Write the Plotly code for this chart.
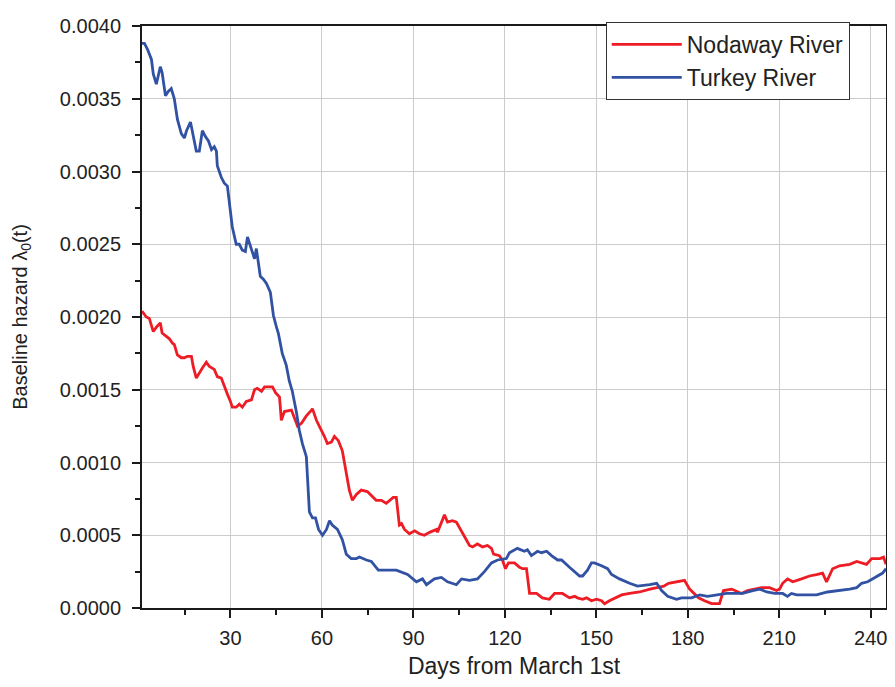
import plotly.graph_objects as go

# ---- data ----
turkey_days = [1, 1.8, 2.8, 4.1, 4.7, 5.7, 7.0, 7.6, 8.7, 9.6, 10.6, 11.6, 12.6, 13.9, 14.9,
               15.6, 16.9, 17.5, 18.8, 19.8, 20.8, 21.8, 22.8, 23.8, 24.7, 25.4, 25.7, 27.0,
               28.0, 29.0, 29.7, 30.6, 31.9, 32.9, 33.9, 34.9, 35.6, 36.9, 37.9, 38.5, 39.8,
               40.8, 41.8, 43.1, 44.1, 45.1, 45.7, 47.0, 48.3, 49.3, 50.3, 51.6, 52.6, 53.6,
               54.9, 55.9, 56.9, 57.9, 58.9, 60.2, 61.5, 62.5, 63.4, 65.1, 66.7, 68.0, 69.6,
               71.3, 72.3, 74.6, 76.2, 78.5, 84.4, 88.1, 91.0, 93.0, 94.3, 96.9, 99.2, 101.2,
               104.1, 105.8, 108.4, 111.0, 113.3, 115.6, 117.6, 120.5, 121.5, 124.1, 126.4,
               127.4, 128.7, 130.7, 132.0, 133.7, 135.3, 137.3, 138.6, 141.2, 142.9, 144.5,
               145.5, 147.1, 148.4, 149.4, 151.7, 153.7, 155.0, 157.6, 160.9, 163.5, 167.5,
               169.8, 171.4, 173.4, 176.3, 177.9, 181.2, 183.9, 186.5, 189.4, 192.7, 196.0,
               198.0, 201.3, 203.6, 205.9, 208.5, 211.1, 212.7, 214.0, 215.7, 219.0, 222.2,
               225.8, 229.8, 233.1, 235.4, 237.0, 239.0, 240.6, 242.3, 243.9, 245.0]
turkey_hazard = [0.00388, 0.00388, 0.00384, 0.00377, 0.00367, 0.00360, 0.00372, 0.00368, 0.00352,
                 0.00355, 0.00357, 0.00350, 0.00336, 0.00326, 0.00323, 0.00328, 0.00334, 0.00328,
                 0.00314, 0.00314, 0.00328, 0.00324, 0.00321, 0.00315, 0.00317, 0.00314, 0.00304,
                 0.00296, 0.00292, 0.00290, 0.00278, 0.00262, 0.00250, 0.00250, 0.00246, 0.00245,
                 0.00255, 0.00246, 0.00240, 0.00247, 0.00228, 0.00226, 0.00223, 0.00217, 0.00201,
                 0.00193, 0.00189, 0.00175, 0.00167, 0.00156, 0.00149, 0.00135, 0.00122, 0.00113,
                 0.00104, 0.00066, 0.00062, 0.00062, 0.00054, 0.00050, 0.00054, 0.00060, 0.00057,
                 0.00054, 0.00047, 0.00037, 0.00034, 0.00034, 0.00035, 0.00033, 0.00032, 0.00026,
                 0.00026, 0.00023, 0.00018, 0.00020, 0.00016, 0.00020, 0.00021, 0.00018, 0.00016,
                 0.00020, 0.00019, 0.00020, 0.00025, 0.00031, 0.00033, 0.00034, 0.00038, 0.00041,
                 0.00039, 0.00040, 0.00036, 0.00039, 0.00038, 0.00039, 0.00036, 0.00033, 0.00033,
                 0.00028, 0.00025, 0.00022, 0.00022, 0.00026, 0.00031, 0.00031, 0.00029, 0.00027,
                 0.00023, 0.00020, 0.00017, 0.00015, 0.00016, 0.00017, 0.00012, 0.00008, 0.00006,
                 0.00007, 0.00007, 0.00009, 0.00008, 0.00009, 0.00010, 0.00010, 0.00010, 0.00012,
                 0.00013, 0.00011, 0.00010, 0.00010, 0.00008, 0.00010, 0.00009, 0.00009, 0.00009,
                 0.00011, 0.00012, 0.00013, 0.00014, 0.00017, 0.00018, 0.00020, 0.00022, 0.00024,
                 0.00027]

nodaway_days = [1, 2.4, 3.4, 4.1, 4.7, 5.7, 7.0, 7.6, 9.3, 10.0, 11.0, 11.6, 12.6, 13.9, 14.9,
                15.9, 17.2, 17.8, 18.8, 19.8, 20.8, 22.1, 23.1, 24.7, 25.7, 27.0, 28.0, 29.0,
                30.0, 30.6, 31.9, 32.9, 33.9, 35.2, 36.9, 37.9, 38.8, 40.2, 41.2, 43.8, 44.8,
                46.1, 46.7, 47.7, 50.0, 51.0, 52.0, 53.3, 54.9, 56.6, 56.9, 58.2, 59.2, 60.8,
                61.8, 63.1, 64.1, 65.4, 66.7, 68.0, 69.0, 70.0, 71.3, 72.9, 74.9, 77.8, 79.5,
                81.1, 83.4, 84.4, 85.4, 86.1, 87.1, 88.7, 90.4, 92.0, 93.6, 95.3, 97.6, 97.9,
                99.2, 100.2, 101.2, 102.8, 104.1, 105.8, 106.8, 108.4, 109.4, 111.0, 112.7,
                114.3, 115.6, 116.3, 118.2, 119.2, 120.2, 121.2, 123.2, 124.8, 125.8, 127.1,
                128.1, 130.4, 132.3, 134.6, 136.3, 138.9, 141.2, 142.9, 143.8, 145.5, 146.8,
                148.4, 150.1, 151.7, 152.7, 154.3, 156.6, 158.3, 160.9, 164.2, 167.6, 169.8,
                172.1, 173.7, 176.3, 178.9, 180.6, 182.2, 183.5, 185.5, 187.8, 190.4, 191.7,
                194.4, 197.6, 199.6, 201.9, 204.2, 206.8, 209.1, 210.1, 211.1, 212.7, 214.4,
                217.3, 219.9, 222.2, 224.2, 225.5, 227.5, 229.8, 233.1, 235.4, 238.6, 240.3,
                243.0, 244.2, 245.0]
nodaway_hazard = [0.00204, 0.00200, 0.00199, 0.00194, 0.00190, 0.00193, 0.00196, 0.00189, 0.00186,
                  0.00185, 0.00182, 0.00181, 0.00174, 0.00172, 0.00172, 0.00173, 0.00173, 0.00166,
                  0.00158, 0.00162, 0.00165, 0.00169, 0.00166, 0.00164, 0.00159, 0.00158, 0.00152,
                  0.00147, 0.00142, 0.00138, 0.00138, 0.00140, 0.00138, 0.00142, 0.00143, 0.00150,
                  0.00151, 0.00149, 0.00152, 0.00152, 0.00148, 0.00145, 0.00129, 0.00135, 0.00136,
                  0.00131, 0.00125, 0.00127, 0.00132, 0.00136, 0.00137, 0.00129, 0.00125, 0.00118,
                  0.00113, 0.00114, 0.00118, 0.00115, 0.00108, 0.00091, 0.00081, 0.00074, 0.00078,
                  0.00081, 0.00080, 0.00074, 0.00074, 0.00072, 0.00076, 0.00076, 0.00057, 0.00058,
                  0.00054, 0.00051, 0.00053, 0.00051, 0.00050, 0.00052, 0.00054, 0.00052, 0.00059,
                  0.00064, 0.00059, 0.00060, 0.00059, 0.00052, 0.00049, 0.00043, 0.00042, 0.00044,
                  0.00042, 0.00043, 0.00041, 0.00037, 0.00036, 0.00033, 0.00027, 0.00031, 0.00031,
                  0.00028, 0.00027, 0.00027, 0.00010, 0.00010, 0.00007, 0.00006, 0.00010, 0.00010,
                  0.00007, 0.00008, 0.00007, 0.00006, 0.00007, 0.00005, 0.00006, 0.00005, 0.00003,
                  0.00005, 0.00007, 0.00009, 0.00010, 0.00011, 0.00013, 0.00014, 0.00015, 0.00017,
                  0.00018, 0.00019, 0.00013, 0.00010, 0.00007, 0.00005, 0.00003, 0.00003, 0.00012,
                  0.00013, 0.00010, 0.00012, 0.00013, 0.00014, 0.00014, 0.00012, 0.00013, 0.00017,
                  0.00020, 0.00018, 0.00020, 0.00022, 0.00023, 0.00024, 0.00018, 0.00027, 0.00029,
                  0.00030, 0.00032, 0.00030, 0.00034, 0.00034, 0.00035, 0.00030]

x_ticks = [30, 60, 90, 120, 150, 180, 210, 240]
x_minor = [15, 45, 75, 105, 135, 165, 195, 225]
y_ticks = [0.0, 0.0005, 0.0010, 0.0015, 0.0020, 0.0025, 0.0030, 0.0035, 0.0040]

RED = "#EE1C25"
BLUE = "#3151A3"
FONT = "Liberation Sans, Arial, sans-serif"
TXT = "#222222"

fig = go.Figure()
fig.add_trace(go.Scatter(x=nodaway_days, y=nodaway_hazard, mode="lines", name="Nodaway River",
                         line=dict(color=RED, width=2.8)))
fig.add_trace(go.Scatter(x=turkey_days, y=turkey_hazard, mode="lines", name="Turkey River",
                         line=dict(color=BLUE, width=2.8)))

axis_common = dict(
    showline=True, linecolor="#1a1a1a", linewidth=2, mirror=True,
    ticks="outside", ticklen=8, tickwidth=2, tickcolor="#1a1a1a",
    showgrid=True, gridcolor="#cccccc", gridwidth=1, zeroline=False,
    tickfont=dict(family=FONT, size=20, color=TXT),
    ticklabeloverflow="allow",
)

fig.update_xaxes(
    range=[1.0, 245.0], tickvals=x_ticks, ticktext=[str(v) for v in x_ticks],
    ticklabelstandoff=3,
    minor=dict(ticks="outside", ticklen=5, tickwidth=2, tickcolor="#1a1a1a",
               tickvals=x_minor, showgrid=False),
    title=dict(text="Days from March 1st", font=dict(family=FONT, size=23, color=TXT), standoff=10),
    **axis_common,
)
fig.update_yaxes(
    range=[0, 0.004], tickvals=y_ticks, ticktext=[f"{v:.4f}" for v in y_ticks],
    ticklabelstandoff=7,
    minor=dict(ticks="outside", ticklen=5, tickwidth=2, tickcolor="#1a1a1a",
               dtick=0.00025, tick0=0, showgrid=False),
    title=dict(text="Baseline hazard λ<sub>0</sub>(t)", font=dict(family=FONT, size=20, color=TXT),
               standoff=27),
    **axis_common,
)

fig.update_layout(
    width=887, height=679,
    margin=dict(l=134, r=7, t=8, b=79),
    paper_bgcolor="white", plot_bgcolor="white",
    font=dict(family=FONT, color=TXT),
    legend=dict(x=0.6233, y=1.007, xanchor="left", yanchor="top",
                bgcolor="white", bordercolor="#333333", borderwidth=1,
                font=dict(family=FONT, size=23, color=TXT),
                itemwidth=70, tracegroupgap=2),
    showlegend=True,
)

fig.write_html("out.html")
